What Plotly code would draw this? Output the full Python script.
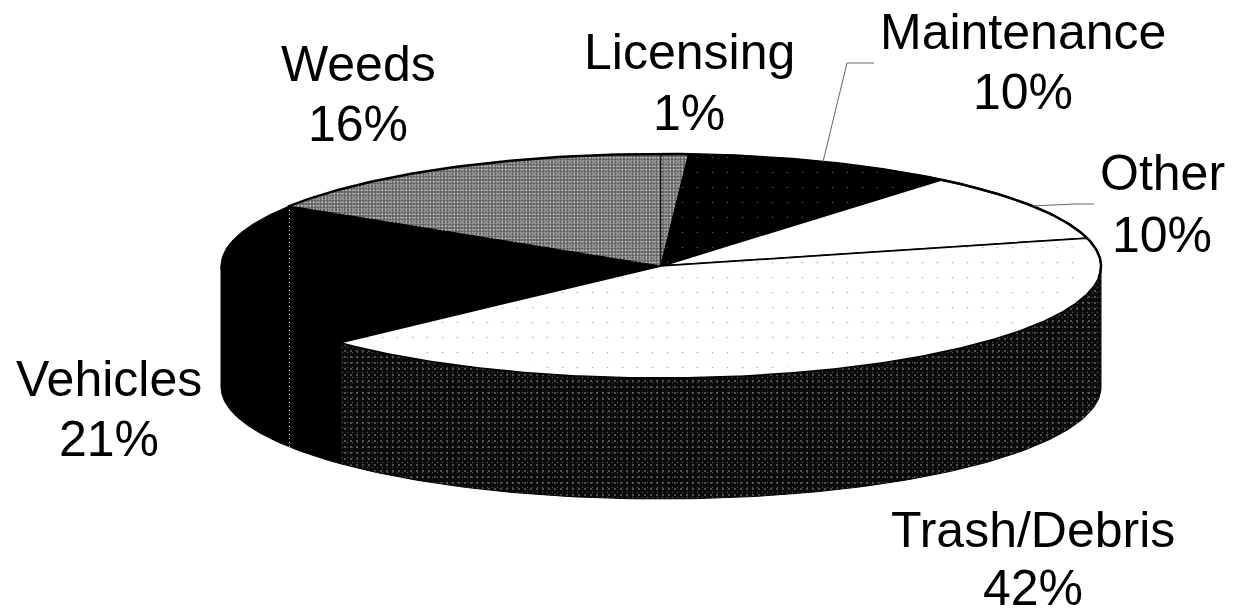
import numpy as np
import plotly.graph_objects as go

# Cost shares, clockwise from twelve o'clock
categories = ["Licensing", "Maintenance", "Other", "Trash/Debris", "Vehicles", "Weeds"]
shares = [1, 10, 10, 42, 21, 16]

# Label anchors: centre x, name line y, percent line y
label_x = [689, 1023, 1162, 1033, 109, 358]
label_name_y = [52, 32, 173, 530, 379, 64]
label_value_y = [113, 92, 235, 588, 439, 124]

# Disc geometry in plot units
CX, CY, RX, RY, DEPTH = 661, 266, 440, 112, 121
FONT = dict(family="Liberation Sans, Arial, sans-serif", size=50, color="#000000")
CLEAR = "rgba(0,0,0,0)"

GRAIN = dict(shape=".", size=3, solidity=0.3, bgcolor="#5c5c5c", fgcolor="#ffffff")
GRAIN_OVER = dict(shape=".", size=4, solidity=0.22, bgcolor=CLEAR, fgcolor="#d8d8d8")
top_styles = {
    "Licensing": dict(fillpattern=GRAIN, line=dict(color="#000000", width=1)),
    "Maintenance": dict(fillpattern=dict(shape=".", size=15, solidity=0.008, bgcolor="#000000", fgcolor="#aaaaaa"),
                        line=dict(color="#000000", width=1.5)),
    "Other": dict(fillcolor="#ffffff", line=dict(color="#000000", width=2)),
    "Trash/Debris": dict(fillcolor="#ffffff", line=dict(color="#000000", width=1.5)),
    "Vehicles": dict(fillcolor="#000000", line=dict(color="#000000", width=1)),
    "Weeds": dict(fillpattern=GRAIN, line=dict(color="#000000", width=1)),
}
side_styles = {
    "Trash/Debris": dict(fillpattern=dict(shape=".", size=6, solidity=0.07, bgcolor="#0a0a0a", fgcolor="#d0d0d0")),
    "Vehicles": dict(fillcolor="#000000"),
}
draw_order = ["Vehicles", "Weeds", "Licensing", "Maintenance", "Other", "Trash/Debris"]


def rim(theta_deg, scale=1.0):
    t = np.radians(theta_deg)
    return CX + scale * RX * np.sin(t), CY - scale * RY * np.cos(t)


def wedge(theta_a, theta_b, scale=1.0):
    x, y = rim(np.linspace(theta_a, theta_b, max(int(theta_b - theta_a) * 2, 6)), scale)
    return np.r_[CX, x, CX], np.r_[CY, y, CY]


def add_area(x, y, **style):
    style.setdefault("line", dict(width=0))
    fig.add_trace(go.Scatter(x=x, y=y, mode="lines", fill="toself",
                             hoverinfo="skip", showlegend=False, **style))


ends = np.cumsum(shares) * 3.6
starts = ends - np.array(shares) * 3.6
span = {c: (s, e) for c, s, e in zip(categories, starts, ends)}

fig = go.Figure()

# Outer wall: only the front half of the rim is visible
for cat, style in side_styles.items():
    a, b = span[cat]
    a, b = max(a, 90), min(b, 270)
    x, y = rim(np.linspace(a, b, 120))
    wall_x, wall_y = np.r_[x, x[::-1], x[0]], np.r_[y, y[::-1] + DEPTH, y[0]]
    add_area(wall_x, wall_y, line=dict(color="#000000", width=1), **style)
    if cat == "Trash/Debris":
        # Second, offset screen breaks up the regularity of the stipple
        add_area(wall_x, wall_y, fillpattern=dict(shape=".", size=5, solidity=0.05, bgcolor=CLEAR, fgcolor="#9a9a9a"))

# Top face wedges
for cat in draw_order:
    a, b = span[cat]
    x, y = wedge(a, b)
    add_area(x, y, **top_styles[cat])
    if cat in ("Weeds", "Licensing"):
        add_area(x, y, fillpattern=GRAIN_OVER)

# Sparse speckle across the middle of the Trash/Debris face
a, b = span["Trash/Debris"]
x, y = wedge(a, b, 0.95)
add_area(x, y, fillpattern=dict(shape=".", size=15, solidity=0.01, bgcolor=CLEAR, fgcolor="#666666"))

# Dotted seam down the wall at the Vehicles/Weeds boundary
seam_x, seam_y = rim(span["Vehicles"][1])
_, seam_front = rim(180 - span["Vehicles"][1])
fig.add_trace(go.Scatter(
    x=[seam_x, seam_x], y=[seam_y, seam_front + DEPTH], mode="lines",
    line=dict(color="#cfcfcf", width=1, dash="1px,3px"), hoverinfo="skip", showlegend=False))

# Heavier rim along the back of the disc
x, y = rim(np.linspace(-58, 96, 240))
fig.add_trace(go.Scatter(x=x, y=y, mode="lines", line=dict(color="#000000", width=2.5),
                         hoverinfo="skip", showlegend=False))

# Leader lines for the two labels set away from their slices
for cat, elbow_x, elbow_y, end_x, end_y in [("Maintenance", 847, 63, 874, 63), ("Other", 1075, 204, 1094, 204)]:
    a, b = span[cat]
    px, py = rim((a + b) / 2)
    fig.add_trace(go.Scatter(x=[px, elbow_x, end_x], y=[py, elbow_y, end_y], mode="lines",
                             line=dict(color="#666666", width=1), hoverinfo="skip", showlegend=False))

# Two-line labels: category name above its percentage
for cat, share, lx, ny, vy in zip(categories, shares, label_x, label_name_y, label_value_y):
    fig.add_annotation(x=lx, y=ny, text=cat, showarrow=False, font=FONT, xanchor="center", yanchor="middle")
    fig.add_annotation(x=lx, y=vy, text=f"{share}%", showarrow=False, font=FONT, xanchor="center", yanchor="middle")

fig.update_layout(
    width=1234, height=615, margin=dict(l=0, r=0, t=0, b=0),
    paper_bgcolor="#ffffff", plot_bgcolor="#ffffff",
    xaxis=dict(range=[0, 1234], visible=False, fixedrange=True),
    yaxis=dict(range=[615, 0], visible=False, fixedrange=True),
)
fig.write_html("out.html", config={"displayModeBar": False})
